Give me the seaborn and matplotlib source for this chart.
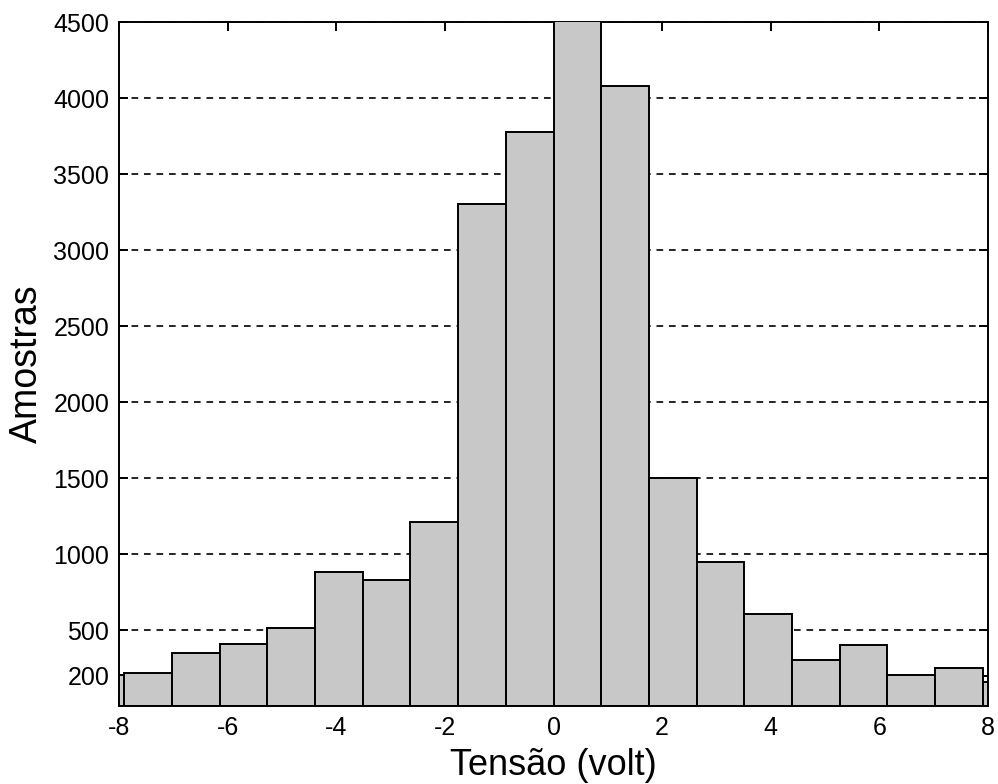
import numpy as np
import pandas as pd
import matplotlib
matplotlib.use("Agg")
import matplotlib.pyplot as plt
import seaborn as sns

# Data
bin_centers = [-8.341, -7.463, -6.585, -5.707, -4.829, -3.951, -3.073, -2.195, -1.317, -0.439,
               0.439, 1.317, 2.195, 3.073, 3.951, 4.829, 5.707, 6.585, 7.463, 8.341]
counts = [204, 219, 351, 406, 511, 879, 829, 1208, 3303, 3778,
          4750, 4079, 1498, 945, 603, 303, 403, 206, 248, 160]
x_ticks = [-8, -6, -4, -2, 0, 2, 4, 6, 8]
y_ticks = [200, 500, 1000, 1500, 2000, 2500, 3000, 3500, 4000, 4500]
x_label = "Tensão (volt)"
y_label = "Amostras"

df = pd.DataFrame({"tensao": bin_centers, "amostras": counts})

sns.set_style("white")
plt.rcParams["font.family"] = ["Liberation Sans", "DejaVu Sans"]
plt.rcParams["text.color"] = "black"
plt.rcParams["axes.labelcolor"] = "black"

fig = plt.figure(figsize=(9.98, 7.84), dpi=100)
ax = fig.add_axes([119 / 998, 1 - 706 / 784, (988 - 119) / 998, (706 - 22) / 784])

bin_width = 0.878
sns.histplot(data=df, x="tensao", weights="amostras", bins=20,
             binrange=(-10 * bin_width, 10 * bin_width),
             color="#c8c8c8", edgecolor="black", linewidth=1.4, alpha=1.0, ax=ax)

ax.set_xlim(-8, 8)
ax.set_ylim(0, 4500)
ax.set_xticks(x_ticks)
ax.set_xticklabels([str(t) for t in x_ticks])
ax.set_yticks(y_ticks)
ax.set_yticklabels([str(t) for t in y_ticks])

ax.set_axisbelow(True)
ax.yaxis.grid(True, color="black", linestyle=(0, (4, 3.5)), linewidth=1.2)
ax.xaxis.grid(False)

for side, sp in ax.spines.items():
    sp.set_visible(True)
    sp.set_color("black")
    sp.set_linewidth(1.4)
ax.spines["top"].set_zorder(0.6)

ax.tick_params(axis="both", which="both", direction="in", length=6.5, width=1.4,
               top=True, right=True, bottom=True, left=True,
               labelsize=18, pad=7, colors="black", labelcolor="black")

ax.set_xlabel(x_label, fontsize=26, labelpad=6, color="black")
ax.set_ylabel(y_label, fontsize=27, labelpad=6, color="black")

fig.savefig("out.png", dpi=100, facecolor="white")
